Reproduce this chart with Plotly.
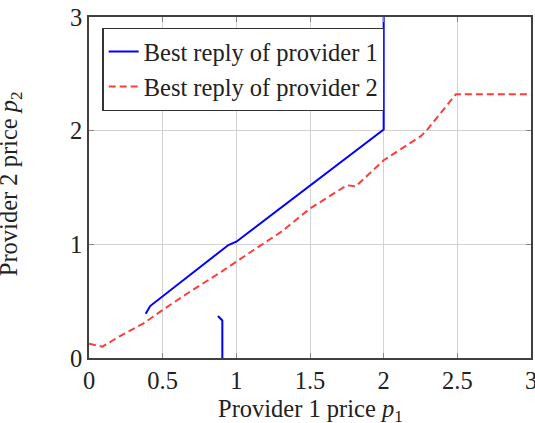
import plotly.graph_objects as go

# Best reply of provider 1 (main branch)
br1_x = [0.385, 0.40, 0.415, 0.946, 1.0, 2.0, 2.0]
br1_y = [0.39, 0.42, 0.457, 0.994, 1.023, 2.01, 3.0]
# Best reply of provider 1 (lower branch)
br1b_x = [0.875, 0.89, 0.905, 0.905]
br1b_y = [0.37, 0.345, 0.33, 0.0]

# Best reply of provider 2
br2_x = [0.0, 0.09, 0.22, 0.37, 0.52, 0.67, 0.90, 1.0, 1.10, 1.31, 1.50, 1.75, 1.81, 2.0, 2.25, 2.29, 2.49, 3.0]
br2_y = [0.125, 0.10, 0.20, 0.305, 0.44, 0.57, 0.76, 0.85, 0.935, 1.115, 1.315, 1.52, 1.51, 1.74, 1.95, 2.0, 2.32, 2.32]

x_ticks = [0, 0.5, 1, 1.5, 2, 2.5, 3]
x_labels = ["0", "0.5", "1", "1.5", "2", "2.5", "3"]
y_ticks = [0, 1, 2, 3]
y_labels = ["0", "1", "2", "3"]

FONT = "Liberation Serif"
FS = 24.5

fig = go.Figure()
fig.add_trace(go.Scatter(
    x=br1_x + [None] + br1b_x, y=br1_y + [None] + br1b_y,
    mode="lines", name="Best reply of provider 1",
    line=dict(color="#0000ff", width=2), connectgaps=False))
fig.add_trace(go.Scatter(
    x=br2_x, y=br2_y, mode="lines", name="Best reply of provider 2",
    line=dict(color="#ff3b3b", width=2, dash="7px,4px")))

axis_common = dict(
    showline=True, linecolor="#404040", linewidth=1.5, mirror="ticks",
    ticks="inside", ticklen=5, tickcolor="#888888", tickwidth=1,
    showgrid=True, gridcolor="#d3d3d3", gridwidth=1, zeroline=False,
    automargin=False,
    tickfont=dict(family=FONT, size=FS, color="#222222"),
)

fig.update_xaxes(range=[0, 3], tickvals=x_ticks, ticktext=x_labels,
                 ticklabeloverflow="allow", **axis_common)
fig.update_yaxes(range=[0, 3], tickvals=y_ticks, ticktext=y_labels, **axis_common)

fig.update_layout(
    width=535, height=423,
    margin=dict(l=88.5, r=3.5, t=17, b=65),
    plot_bgcolor="white", paper_bgcolor="white",
    font=dict(family=FONT, size=FS, color="#222222"),
    showlegend=True,
    legend=dict(x=0.0305, y=0.968, xanchor="left", yanchor="top",
                bgcolor="white", bordercolor="#333333", borderwidth=1.2,
                font=dict(family=FONT, size=FS, color="#222222"),
                tracegroupgap=0),
    annotations=[
        dict(text="Provider 1 price <i>p</i><sub>1</sub>", xref="paper", yref="paper",
             x=0.5, y=-0.1525, xanchor="center", yanchor="middle", showarrow=False,
             font=dict(family=FONT, size=FS, color="#222222")),
        dict(text="Provider 2 price <i>p</i><sub>2</sub>", xref="paper", yref="paper",
             x=-0.177, y=0.512, xanchor="center", yanchor="middle", showarrow=False,
             textangle=-90, font=dict(family=FONT, size=FS, color="#222222")),
    ],
)

fig.write_html("out.html")
